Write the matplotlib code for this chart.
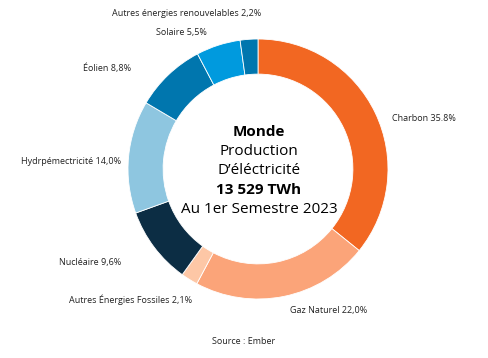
import matplotlib
matplotlib.use("Agg")
import matplotlib.pyplot as plt

# data
sources = ["Charbon", "Gaz Naturel", "Autres Énergies Fossiles", "Nucléaire",
           "Hydrpémectricité", "Éolien", "Solaire", "Autres énergies renouvelables"]
shares = [35.8, 22.0, 2.1, 9.6, 14.0, 8.8, 5.5, 2.2]
share_labels = ["35.8%", "22,0%", "2,1%", "9,6%", "14,0%", "8,8%", "5,5%", "2,2%"]
colors = ["#f26722", "#fba479", "#fdc7a6", "#0c2d44",
          "#8ec6e0", "#0076ae", "#009ade", "#0076ae"]

# label positions in pixels (x, y, alignment)
label_pos = [(392, 118, "left"), (290, 310, "left"), (192, 300, "right"), (121, 263, "right"),
             (121, 162, "right"), (131, 68, "right"), (207, 33, "right"), (187, 13, "center")]

W, H = 489, 358
fig = plt.figure(figsize=(W / 100, H / 100), dpi=100)
plt.rcParams['font.family'] = ['Open Sans', 'DejaVu Sans']

cx, cy, r = 258, 169, 130
ax = fig.add_axes([(cx - r) / W, (H - cy - r) / H, 2 * r / W, 2 * r / H])
ax.pie(shares, colors=colors, startangle=90, counterclock=False, radius=1,
       wedgeprops=dict(width=0.27, edgecolor="white", linewidth=0.6))
ax.set_xlim(-1, 1)
ax.set_ylim(-1, 1)
ax.set_aspect("equal")
ax.axis("off")

for name, lab, (px, py, ha) in zip(sources, share_labels, label_pos):
    fig.text(px / W, 1 - py / H, f"{name} {lab}", ha=ha, va="center", fontsize=6.5, color="#222222")

center_lines = [("Monde", "bold"), ("Production", "normal"), ("D’éléctricité", "normal"),
                ("13 529 TWh", "bold"), ("Au 1er Semestre 2023", "normal")]
for i, (txt, w) in enumerate(center_lines):
    fig.text(259 / W, 1 - (132 + i * 19.3) / H, txt, ha="center", va="center",
             fontsize=11, fontweight=w, color="black")

fig.text(244 / W, 1 - 341 / H, "Source : Ember", ha="center", va="center", fontsize=6.5, color="#222222")

fig.savefig("out.png", dpi=100)
